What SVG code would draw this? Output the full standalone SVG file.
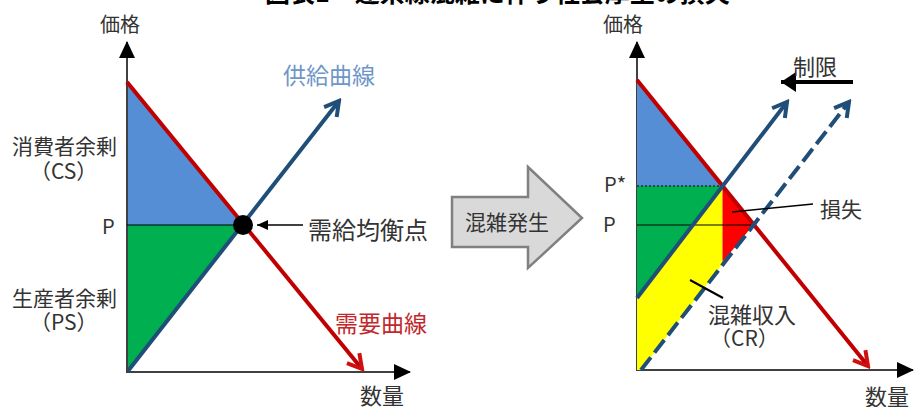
<svg xmlns="http://www.w3.org/2000/svg" width="915" height="407" viewBox="0 0 915 407">
<defs>
<style>
text{font-family:"Noto Sans CJK JP","Noto Sans",sans-serif;fill:#333;}
.lbl{font-size:21px;}
.axis{stroke:#404040;stroke-width:2;fill:none;}
.dem{stroke:#C00000;stroke-width:4;fill:none;}
.sup{stroke:#1F4E79;stroke-width:4;fill:none;}
.thin{stroke:#000;stroke-width:1;fill:none;}
</style>
<marker id="axh" markerUnits="userSpaceOnUse" markerWidth="18" markerHeight="18" viewBox="0 0 18 18" refX="16" refY="9" orient="auto"><path d="M0,1 L17,9 L0,17 z" fill="#000"/></marker>
<marker id="redh" markerUnits="userSpaceOnUse" markerWidth="20" markerHeight="20" viewBox="0 0 20 20" refX="17" refY="10" orient="auto"><path d="M3,2 L17,10 L3,18" fill="none" stroke="#D01010" stroke-width="4" stroke-linejoin="miter"/></marker>
<marker id="blueh" markerUnits="userSpaceOnUse" markerWidth="20" markerHeight="20" viewBox="0 0 20 20" refX="17" refY="10" orient="auto"><path d="M3,2 L17,10 L3,18" fill="none" stroke="#1F4E79" stroke-width="4"/></marker>
<marker id="smallh" markerUnits="userSpaceOnUse" markerWidth="12" markerHeight="12" viewBox="0 0 12 12" refX="11" refY="6" orient="auto"><path d="M0,1 L11,6 L0,11 z" fill="#000"/></marker>
<marker id="bigh" markerUnits="userSpaceOnUse" markerWidth="16" markerHeight="22" viewBox="0 0 16 22" refX="15" refY="11" orient="auto"><path d="M0,1 L15,11 L0,21 z" fill="#000"/></marker>
</defs>
<rect width="915" height="407" fill="#fff"/>
<text x="265" y="2" style="font-size:25px;font-weight:bold;fill:#000">図表1　連系線混雑に伴う社会厚生の損失</text>

<g id="left-chart">
  <g id="cs-area"><polygon points="127,82 127,225 243,225" fill="#558ED5"/></g>
  <g id="ps-area"><polygon points="127,225 243,225 128,371" fill="#00B050"/></g>
</g>

<g id="connectors">
  <line class="axis" x1="127" y1="372" x2="127" y2="42" marker-end="url(#axh)"/>
  <line class="axis" x1="126" y1="372" x2="410" y2="372" marker-end="url(#axh)"/>
  <line class="thin" x1="127" y1="225" x2="243" y2="225"/>
  <line class="dem" x1="127" y1="82" x2="362" y2="369" marker-end="url(#redh)"/>
  <line class="sup" x1="128" y1="371" x2="339" y2="101" marker-end="url(#blueh)"/>
  <line x1="303" y1="225" x2="257" y2="225" stroke="#000" stroke-width="1.5" marker-end="url(#smallh)"/>

  <line class="axis" x1="637" y1="370" x2="637" y2="42" marker-end="url(#axh)"/>
  <line class="axis" x1="636" y1="370" x2="913" y2="370" marker-end="url(#axh)"/>
</g>

<g id="eq-point"><circle cx="243" cy="225" r="10" fill="#000"/></g>

<g id="labels-left">
  <text x="100" y="32" style="font-size:20px">価格</text>
  <text x="12" y="154" class="lbl">消費者余剰</text>
  <text x="30" y="179" class="lbl">（CS）</text>
  <text x="102" y="234" style="font-size:20px">P</text>
  <text x="12" y="306" class="lbl">生産者余剰</text>
  <text x="30" y="330" class="lbl">（PS）</text>
  <text x="308" y="239" style="font-size:24px">需給均衡点</text>
  <text x="283" y="84" style="font-size:23px;fill:#6E96C8">供給曲線</text>
  <text x="335" y="332" style="font-size:23px;fill:#C0282D">需要曲線</text>
  <text x="360" y="404" style="font-size:22px">数量</text>
</g>

<g id="congestion-arrow">
  <polygon points="452,197 528,197 528,167 582,218 528,268 528,247 452,247" fill="#D9D9D9" stroke="#808080" stroke-width="2.5"/>
  <text x="465" y="230" style="font-size:21px">混雑発生</text>
</g>

<g id="right-chart">
  <g id="cs2"><polygon points="637,80 637,186 722.5,186" fill="#558ED5"/></g>
  <g id="ps2"><polygon points="637,186 722.5,186 637,298" fill="#00B050"/></g>
  <g id="cr"><polygon points="637,298 722.5,186 722.5,264 641,370 637,370" fill="#FFFF00"/></g>
  <g id="loss"><polygon points="722.5,186 753.7,224.5 722.5,262" fill="#FF0000"/></g>
  <g id="right-lines">
    <line x1="637" y1="186" x2="722" y2="186" stroke="#000" stroke-width="1" stroke-dasharray="2,2"/>
    <line class="thin" x1="637" y1="225" x2="753" y2="225"/>
    <line class="dem" x1="637" y1="80" x2="868" y2="366" marker-end="url(#redh)"/>
    <line class="sup" x1="637" y1="298" x2="787" y2="102" marker-end="url(#blueh)"/>
    <line class="sup" x1="641" y1="370" x2="849" y2="102" stroke-dasharray="16,6" marker-end="url(#blueh)"/>
    <line x1="813" y1="204" x2="732" y2="212" stroke="#000" stroke-width="1.5"/>
    <line x1="690" y1="280" x2="723" y2="298" stroke="#000" stroke-width="2"/>
    <line x1="853" y1="82" x2="781" y2="82" stroke="#000" stroke-width="4" marker-end="url(#bigh)"/>
  </g>
  <text x="603" y="32" style="font-size:20px">価格</text>
  <text x="793" y="75" style="font-size:22px">制限</text>
  <text x="604" y="192" style="font-size:20px">P*</text>
  <text x="603" y="232" style="font-size:20px">P</text>
  <text x="820" y="217" style="font-size:21px">損失</text>
  <text x="708" y="323" style="font-size:22px">混雑収入</text>
  <text x="710" y="346" class="lbl">（CR）</text>
  <text x="865" y="405" style="font-size:22px">数量</text>
</g>
</svg>
